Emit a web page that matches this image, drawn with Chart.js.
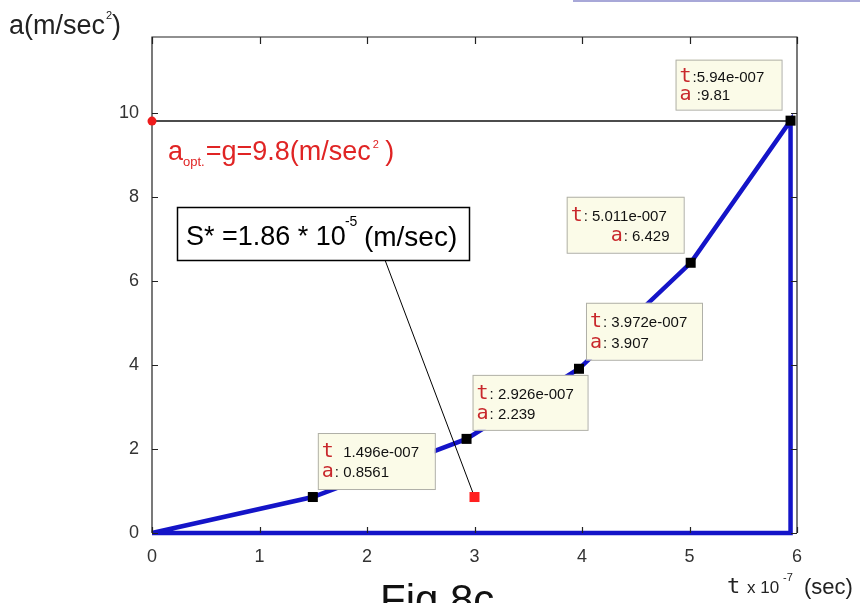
<!DOCTYPE html>
<html>
<head>
<meta charset="utf-8">
<script src="https://cdn.jsdelivr.net/npm/chart.js@4/dist/chart.umd.min.js"></script>
<style>
  html, body { margin: 0; padding: 0; background: #fff; }
  #wrap { width: 860px; height: 603px; position: relative; }
</style>
</head>
<body>
<div id="wrap"><canvas id="chart" width="860" height="603"></canvas></div>
<script>
// acceleration curve, t in units of 1e-7 sec
var tVals = [0, 1.496, 2.926, 3.972, 5.011, 5.94];
var aVals = [0, 0.8561, 2.239, 3.907, 6.429, 9.81];

// data tip points
var tipT = [1.496, 2.926, 3.972, 5.011, 5.94];
var tipA = [0.8561, 2.239, 3.907, 6.429, 9.81];
var tipTLabels = ["  1.496e-007", ": 2.926e-007", ": 3.972e-007", ": 5.011e-007", ":5.94e-007"];
var tipALabels = [": 0.8561", ": 2.239", ": 3.907", ": 6.429", " :9.81"];

var gLevel = 9.8;
var sPoint = { x: 3, y: 0.856 };

var xTicks = [0, 1, 2, 3, 4, 5, 6];
var yTicks = [0, 2, 4, 6, 8, 10];

var FONT = "'Liberation Sans', Arial, sans-serif";

// closed outline: curve, down to the axis, back to origin
var curve = tVals.map(function (t, i) { return { x: t, y: aVals[i] }; });
curve.push({ x: tVals[tVals.length - 1], y: 0 });
curve.push({ x: 0, y: 0 });

// box placement for each tip, relative to its marker (pixels)
// side: 1 = box to the right of marker, -1 = box to the left
var tipBoxes = [
  { side: 1, dx: 5, dy: 8, w: 117, h: 56, aIndent: 0 },
  { side: 1, dx: 6, dy: 9, w: 115, h: 55, aIndent: 0 },
  { side: 1, dx: 7, dy: 9, w: 116, h: 57, aIndent: 0 },
  { side: -1, dx: 7, dy: 10, w: 117, h: 56, aIndent: 40 },
  { side: -1, dx: 9, dy: 11, w: 106, h: 50, aIndent: 0 }
];

var decorPlugin = {
  id: "decor",
  afterDatasetsDraw: function (chart) {
    var ctx = chart.ctx;
    var xs = chart.scales.x, ys = chart.scales.y;
    ctx.save();

    // data tips
    tipT.forEach(function (t, i) {
      var px = xs.getPixelForValue(t), py = ys.getPixelForValue(tipA[i]);
      var b = tipBoxes[i];
      var left = b.side > 0 ? px + b.dx : px - b.dx - b.w;
      var top = py - b.dy - b.h;
      ctx.fillStyle = "#fbfbe8";
      ctx.fillRect(left, top, b.w, b.h);
      ctx.strokeStyle = "#b0b0a8";
      ctx.lineWidth = 1;
      ctx.strokeRect(left + 0.5, top + 0.5, b.w, b.h);

      var l1 = top + b.h * 0.34, l2 = top + b.h * 0.7;
      ctx.textBaseline = "middle";
      ctx.textAlign = "left";
      ctx.fillStyle = "#c8282c";
      ctx.font = "20px 'DejaVu Sans Mono', monospace";
      ctx.fillText("t", left + 4, l1);
      ctx.fillText("a", left + 4 + b.aIndent, l2);
      ctx.fillStyle = "#111";
      ctx.font = "15px " + FONT;
      ctx.fillText(tipTLabels[i], left + 17, l1 + 1);
      ctx.fillText(tipALabels[i], left + 17 + b.aIndent, l2 + 1);
    });

    // markers on top of boxes
    ctx.fillStyle = "#000";
    tipT.forEach(function (t, i) {
      var px = xs.getPixelForValue(t), py = ys.getPixelForValue(tipA[i]);
      ctx.fillRect(px - 5, py - 5, 10, 10);
    });

    // S* box and leader line
    var sx = xs.getPixelForValue(sPoint.x), sy = ys.getPixelForValue(sPoint.y);
    ctx.strokeStyle = "#000";
    ctx.lineWidth = 1;
    ctx.beginPath();
    ctx.moveTo(385, 260);
    ctx.lineTo(sx, sy);
    ctx.stroke();
    ctx.fillStyle = "#ff2020";
    ctx.fillRect(sx - 5, sy - 5, 10, 10);

    ctx.fillStyle = "#fff";
    ctx.fillRect(177, 207, 292, 53);
    ctx.lineWidth = 1.5;
    ctx.strokeRect(177.5, 207.5, 292, 53);
    ctx.fillStyle = "#000";
    ctx.textBaseline = "alphabetic";
    ctx.textAlign = "left";
    ctx.font = "27px " + FONT;
    var s1 = "S* =1.86 * 10";
    ctx.fillText(s1, 186, 245);
    var w1 = ctx.measureText(s1).width;
    ctx.font = "14px " + FONT;
    ctx.fillText("-5", 186 + w1 - 1, 226);
    ctx.font = "28px " + FONT;
    ctx.fillText("(m/sec)", 186 + w1 + 18, 246);

    // red a_opt label
    ctx.fillStyle = "#e02424";
    ctx.font = "27px " + FONT;
    ctx.fillText("a", 168, 160);
    var wa = ctx.measureText("a").width;
    ctx.font = "13px " + FONT;
    ctx.fillText("opt.", 168 + wa, 166);
    var wo = ctx.measureText("opt.").width;
    ctx.font = "27px " + FONT;
    var r1 = "=g=9.8(m/sec";
    ctx.fillText(r1, 168 + wa + wo + 1, 160);
    var wr = ctx.measureText(r1).width;
    ctx.font = "11px " + FONT;
    ctx.fillText("2", 168 + wa + wo + 3 + wr, 148);
    ctx.font = "27px " + FONT;
    ctx.fillText(" )", 168 + wa + wo + 8 + wr, 160);

    ctx.restore();
  },
  afterDraw: function (chart) {
    var ctx = chart.ctx;
    var a = chart.chartArea;
    var xs = chart.scales.x, ys = chart.scales.y;
    ctx.save();
    ctx.strokeStyle = "#222";
    ctx.lineWidth = 1.2;
    ctx.beginPath();
    ctx.moveTo(a.left, a.bottom);
    ctx.lineTo(a.left, a.top);
    ctx.lineTo(a.right, a.top);
    ctx.lineTo(a.right, a.bottom);
    ctx.stroke();
    // inward ticks, all four sides
    ctx.beginPath();
    xTicks.forEach(function (v) {
      var p = Math.round(xs.getPixelForValue(v)) + 0.5;
      ctx.moveTo(p, a.bottom); ctx.lineTo(p, a.bottom - 6);
      ctx.moveTo(p, a.top); ctx.lineTo(p, a.top + 7);
    });
    yTicks.forEach(function (v) {
      var p = Math.round(ys.getPixelForValue(v)) + 0.5;
      ctx.moveTo(a.left, p); ctx.lineTo(a.left + 6, p);
      ctx.moveTo(a.right, p); ctx.lineTo(a.right - 6, p);
    });
    ctx.stroke();

    // red dot at the g level on the axis
    ctx.fillStyle = "#ee1c1c";
    ctx.beginPath();
    ctx.arc(xs.getPixelForValue(0), ys.getPixelForValue(gLevel), 4.5, 0, Math.PI * 2);
    ctx.fill();

    // axis titles
    ctx.fillStyle = "#222";
    ctx.textAlign = "left";
    ctx.textBaseline = "alphabetic";
    ctx.font = "27px " + FONT;
    ctx.fillText("a(m/sec", 9, 34);
    var wt = ctx.measureText("a(m/sec").width;
    ctx.font = "11px " + FONT;
    ctx.fillText("2", 9 + wt + 1, 19);
    ctx.font = "27px " + FONT;
    ctx.fillText(")", 9 + wt + 7, 34);

    ctx.font = "22px 'DejaVu Sans Mono', monospace";
    ctx.fillText("t", 727, 593);
    ctx.font = "17px " + FONT;
    ctx.fillText("x 10", 747, 593);
    ctx.font = "11px " + FONT;
    ctx.fillText("-7", 783, 581);
    ctx.font = "22px " + FONT;
    ctx.fillText("(sec)", 804, 594);

    ctx.font = "42px " + FONT;
    ctx.fillStyle = "#111";
    ctx.textBaseline = "top";
    ctx.fillText("Fig 8c", 380, 581);

    // stray rule at the top edge
    ctx.strokeStyle = "#a8a8d8";
    ctx.lineWidth = 2;
    ctx.beginPath();
    ctx.moveTo(573, 1); ctx.lineTo(860, 1);
    ctx.stroke();
    ctx.restore();
  }
};

var config = {
  type: "scatter",
  data: {
    datasets: [
      {
        // g reference line
        data: [{ x: 0, y: gLevel }, { x: tVals[tVals.length - 1], y: gLevel }],
        showLine: true,
        borderColor: "#111",
        borderWidth: 1.5,
        pointRadius: 0,
        clip: false
      },
      {
        data: curve,
        showLine: true,
        borderColor: "#1414c8",
        borderWidth: 4.5,
        pointRadius: 0,
        borderJoinStyle: "miter",
        clip: false
      }
    ]
  },
  options: {
    responsive: false,
    animation: false,
    layout: { padding: { left: 0, top: 37, right: 63, bottom: 0 } },
    plugins: { legend: { display: false }, tooltip: { enabled: false } },
    scales: {
      x: {
        type: "linear",
        min: 0,
        max: 6,
        grid: { display: false },
        border: { display: false },
        afterBuildTicks: function (s) { s.ticks = xTicks.map(function (v) { return { value: v }; }); },
        afterFit: function (s) { s.height = 70; },
        ticks: { padding: 5, color: "#333", font: { size: 18, family: FONT } }
      },
      y: {
        type: "linear",
        min: 0,
        max: 11.8,
        grid: { display: false },
        border: { display: false },
        afterBuildTicks: function (s) { s.ticks = yTicks.map(function (v) { return { value: v }; }); },
        afterFit: function (s) { s.width = 152; },
        ticks: { padding: 5, color: "#333", font: { size: 18, family: FONT } }
      }
    }
  },
  plugins: [decorPlugin]
};

window.onload = function () {
  var ctx = document.getElementById("chart").getContext("2d");
  window.accelChart = new Chart(ctx, config);
};
</script>
</body>
</html>
